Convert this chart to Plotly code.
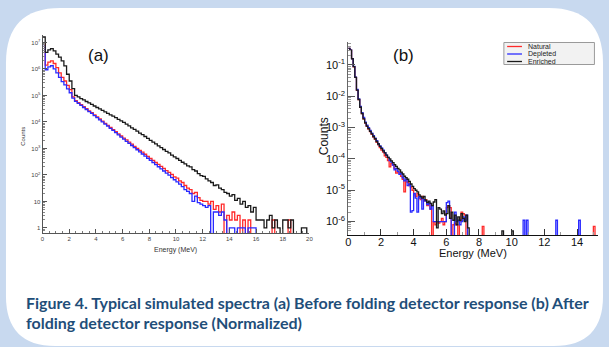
import numpy as np
import plotly.graph_objects as go

W, H = 609, 347

# ---------------- Panel (a): before folding detector response (counts, 0.2 MeV bins) -------------
A_BIN_WIDTH = 0.2
a_enriched = [1.6e7, 4.2e6, 5.2e6, 5.8e6, 4.8e6, 3.6e6, 2.8e6, 2.0e6, 1.3e6, 6.3e5,
              3.5e5, 1.8e5, 1.0e5, 8.9e4, 7.6e4, 6.8e4, 5.9e4, 5.2e4, 4.6e4, 4.0e4,
              3.5e4, 3.1e4, 2.75e4, 2.4e4, 2.1e4, 1.86e4, 1.66e4, 1.45e4, 1.26e4, 1.1e4,
              9550, 8300, 7100, 6000, 5250, 4470, 3800, 3310, 2820, 2400,
              2000, 1740, 1480, 1260, 1070, 912, 776, 676, 562, 479,
              417, 355, 302, 263, 219, 200, 158, 141, 112, 95,
              89, 71, 60, 52, 40, 42, 32, 28, 22, 20,
              16, 18, 11, 13, 8, 10, 6, 7, 4, 6,
              2, 2, 2, 1, 2, 3, 1, 2, 1, 0,
              2, 2, 1, 2, 0, 0, 0, 1, 1, 0]
a_natural = [8.9e6, 1.4e6, 1.8e6, 2.0e6, 1.6e6, 1.12e6, 7.1e5, 4.8e5, 3.5e5, 2.4e5,
             1.66e5, 8.9e4, 6.3e4, 5.4e4, 4.5e4, 3.8e4, 3.16e4, 2.63e4, 2.24e4, 1.86e4,
             1.55e4, 1.29e4, 1.07e4, 8900, 7400, 6170, 5130, 4270, 3550, 2950,
             2450, 2090, 1740, 1450, 1200, 1000, 851, 724, 603, 501,
             417, 355, 295, 251, 209, 178, 145, 126, 105, 85,
             76, 60, 52, 40, 32, 28, 20, 22, 14, 11,
             10, 10, 8, 10, 5, 7, 4, 8, 0, 3,
             2, 4, 2, 3, 0, 2, 0, 2, 0, 0,
             0, 0, 0, 0, 0, 0, 2, 0, 0, 0,
             0, 0, 2, 0, 0, 0, 0, 0, 0, 0]
a_depleted = [7.1e6, 9.3e5, 1.2e6, 1.32e6, 1.0e6, 7.1e5, 4.8e5, 3.3e5, 2.5e5, 1.78e5,
              1.26e5, 7.9e4, 6.0e4, 5.0e4, 4.2e4, 3.5e4, 2.95e4, 2.45e4, 2.1e4, 1.74e4,
              1.45e4, 1.2e4, 1.0e4, 8300, 6900, 5750, 4790, 3980, 3240, 2690,
              2240, 1860, 1550, 1290, 1070, 891, 741, 617, 513, 427,
              355, 295, 245, 204, 170, 141, 117, 98, 79, 66,
              55, 45, 36, 28, 24, 20, 10, 16, 9, 8,
              7, 6, 7, 0, 4, 4, 3, 4, 2, 0,
              1, 1, 0, 1, 1, 1, 0, 1, 1, 1,
              0, 0, 0, 0, 0, 0, 0, 0, 0, 0,
              0, 0, 0, 0, 0, 0, 0, 0, 0, 0]

# ---------------- Panel (b): after folding detector response (normalized, 0.1 MeV bins) ----------
B_BIN_WIDTH = 0.1
b_enriched = [0.34, 0.30, 0.158, 0.089, 0.040, 0.0158, 0.0079, 0.00447, 0.00282, 0.0019,
              0.00141, 0.00112, 9.3e-4, 7.6e-4, 6.3e-4, 5.2e-4, 4.4e-4, 3.6e-4, 3.0e-4, 2.5e-4,
              2.14e-4, 1.82e-4, 1.55e-4, 1.32e-4, 1.12e-4, 1.0e-4, 8.7e-5, 7.6e-5, 6.6e-5, 5.75e-5,
              5.0e-5, 4.5e-5, 3.8e-5, 3.3e-5, 2.8e-5, 2.5e-5, 2.24e-5, 1.9e-5, 1.58e-5, 1.32e-5,
              1.12e-5, 1.0e-5, 8.9e-6, 7.1e-6, 6.3e-6, 5.6e-6, 6.3e-6, 4.8e-6, 4.0e-6, 4.5e-6,
              3.8e-6, 3.2e-6, 4.2e-6, 5.0e-6, 6.3e-7, 2.8e-6, 2.5e-6, 1.8e-6, 2.2e-6, 1.6e-6,
              1.8e-6, 3.2e-6, 1.26e-6, 2.0e-6, 1.1e-6, 1.6e-6, 7.9e-7, 1.4e-6, 1.1e-6, 1.8e-6,
              1.26e-6, 1.0e-6, 1.6e-6, 6.3e-7, 0] \
    + [0] * 19 + [5e-7] + [0] * 5 + [5e-7] + [0] * 52
b_natural = [0.34, 0.30, 0.16, 0.088, 0.040, 0.0155, 0.0078, 0.0044, 0.0028, 0.0019,
             0.0014, 0.0011, 9.0e-4, 7.4e-4, 6.1e-4, 5.0e-4, 4.2e-4, 3.4e-4, 2.8e-4, 2.3e-4,
             1.9e-4, 1.66e-4, 1.26e-4, 1.12e-4, 8.9e-5, 5.6e-5, 7.1e-5, 6.3e-5, 5.0e-5, 3.5e-5,
             4.0e-5, 3.5e-5, 2.8e-5, 2.24e-5, 8.9e-6, 2.0e-5, 1.8e-5, 1.4e-5, 1.26e-5, 1.0e-5,
             7.1e-6, 6.3e-6, 7.9e-6, 5.6e-6, 5.0e-6, 6.3e-6, 4.5e-6, 5.0e-6, 3.2e-6, 3.5e-6,
             2.5e-6, 0, 1.0e-6, 7.9e-7, 1.0e-6, 8.9e-7, 1.0e-6, 1.26e-6, 7.9e-7, 1.0e-6,
             2.8e-6, 3.2e-6, 2.8e-6, 0, 7.9e-7, 8.9e-7, 7.9e-7, 0, 1.0e-6, 2.0e-6,
             1.8e-6, 1.6e-6, 0, 0, 0] \
    + [0] * 7 + [7e-7] + [0] * 67 + [7e-7] + [0] * 2
b_depleted = [0.34, 0.30, 0.16, 0.090, 0.041, 0.0165, 0.0083, 0.0048, 0.0030, 0.0021,
              0.0015, 0.0012, 1.0e-3, 8.2e-4, 6.7e-4, 5.5e-4, 4.6e-4, 3.8e-4, 3.1e-4, 2.6e-4,
              2.24e-4, 1.9e-4, 1.58e-4, 1.32e-4, 1.12e-4, 8.9e-5, 7.9e-5, 6.3e-5, 4.5e-5, 5.0e-5,
              4.0e-5, 3.2e-5, 3.5e-5, 2.5e-5, 2.0e-5, 2.24e-5, 1.4e-5, 1.58e-5, 2.0e-6, 2.24e-6,
              7.9e-6, 5.6e-6, 2.0e-6, 6.3e-6, 5.6e-6, 2.5e-6, 5.0e-6, 4.5e-6, 3.5e-6, 4.0e-6,
              2.5e-6, 3.2e-6, 1.0e-6, 1.0e-6, 1.0e-6, 1.0e-6, 1.0e-6, 1.0e-6, 1.0e-6, 1.0e-6,
              4.0e-6, 4.5e-6, 1.26e-6, 0, 0, 2.0e-6, 1.0e-6, 1.1e-6, 7.9e-7, 1.0e-6,
              1.4e-6, 1.1e-6, 1.6e-6, 0, 0] \
    + [0] * 32 + [1.1e-6] + [0] + [1.1e-6] + [0] * 17 + [1.1e-6] + [0] * 13 + [1.1e-6] + [0] * 11

series_names = ["Natural", "Depleted", "Enriched"]
series_colors = ["#ff2a2a", "#2a2aff", "#1a1a1a"]

a_ticks = [1, 10, 1e2, 1e3, 1e4, 1e5, 1e6, 1e7]
a_ticktext = ["1", "10", "10<sup>2</sup>", "10<sup>3</sup>", "10<sup>4</sup>",
              "10<sup>5</sup>", "10<sup>6</sup>", "10<sup>7</sup>"]
b_ticks = [1e-6, 1e-5, 1e-4, 1e-3, 1e-2, 1e-1]
b_ticktext = ["10<sup>-6</sup>", "10<sup>-5</sup>", "10<sup>-4</sup>",
              "10<sup>-3</sup>", "10<sup>-2</sup>", "10<sup>-1</sup>"]


def step_xy(vals, width, floor):
    n = len(vals)
    xs = list(np.round(np.arange(n + 1) * width, 4))
    ys = [v if v > 0 else floor for v in vals]
    ys = ys + [ys[-1]]
    return xs, ys


def PX(x):
    return x / W


def PY(y):
    return 1 - y / H


fig = go.Figure()

for vals, name, col in zip([a_natural, a_depleted, a_enriched], series_names, series_colors):
    xs, ys = step_xy(vals, A_BIN_WIDTH, 1e-3)
    fig.add_trace(go.Scatter(x=xs, y=ys, mode="lines", line=dict(shape="hv", color=col, width=1.3),
                             name=name, showlegend=False, xaxis="x", yaxis="y"))

for vals, name, col in zip([b_natural, b_depleted, b_enriched], series_names, series_colors):
    xs, ys = step_xy(vals, B_BIN_WIDTH, 1e-10)
    fig.add_trace(go.Scatter(x=xs, y=ys, mode="lines", line=dict(shape="hv", color=col, width=1.3),
                             name=name, showlegend=False, xaxis="x2", yaxis="y2"))

# white rounded panel on light-blue page
R1, R2 = 55, 50
L, T, Rt, B = 3, 8, 607, 346
pts = [("M", L + R1, T), ("L", Rt - R1, T), ("Q", Rt, T, Rt, T + R1), ("L", Rt, B - R2),
       ("Q", Rt, B, Rt - R2, B), ("L", L + R2, B), ("Q", L, B, L, B - R2), ("L", L, T + R1),
       ("Q", L, T, L + R1, T)]
path = ""
for p in pts:
    if p[0] == "Q":
        path += f"Q{PX(p[1]):.5f},{PY(p[2]):.5f} {PX(p[3]):.5f},{PY(p[4]):.5f} "
    else:
        path += f"{p[0]}{PX(p[1]):.5f},{PY(p[2]):.5f} "
path += "Z"

shapes = [dict(type="path", path=path, xref="paper", yref="paper", fillcolor="white",
               line=dict(width=0), layer="below")]

# legend box for panel (b)
shapes.append(dict(type="rect", xref="paper", yref="paper", x0=PX(506.7), x1=PX(598.3),
                   y0=PY(64.5), y1=PY(42.5), fillcolor="#f2f2f2", line=dict(color="#9a9a9a", width=1)))
annotations = []
for i, (name, col) in enumerate(zip(series_names, series_colors)):
    yy = 46.5 + i * 7.5
    shapes.append(dict(type="line", xref="paper", yref="paper", x0=PX(510), x1=PX(525),
                       y0=PY(yy), y1=PY(yy), line=dict(color=col, width=1.3)))
    annotations.append(dict(text=name, x=PX(529), y=PY(yy), xref="paper", yref="paper",
                            xanchor="left", yanchor="middle", showarrow=False,
                            font=dict(size=7, color="#222", family="Liberation Sans")))


def label(text, x, y, size, color="#111", angle=0, family="Liberation Sans", anchor="center"):
    return dict(text=text, x=PX(x), y=PY(y), xref="paper", yref="paper", showarrow=False,
                xanchor=anchor, yanchor="middle", textangle=angle,
                font=dict(size=size, color=color, family=family))


annotations += [
    label("(a)", 97, 55, 17),
    label("(b)", 405, 55, 17),
    label("Energy (MeV)", 175, 250, 7, color="#333"),
    label("Counts", 20, 136, 6, color="#333", angle=-90),
    label("Energy (MeV)", 475, 252.5, 11),
    label("Counts", 325, 136, 12, angle=-90),
    label("<b>Figure 4. Typical simulated spectra (a) Before folding detector response (b) After</b>",
          21, 302, 16, color="#1f4e79", family="Lato", anchor="left"),
    label("<b>folding detector response (Normalized)</b>",
          21, 322, 16, color="#1f4e79", family="Lato", anchor="left"),
]

fig.update_layout(
    width=W, height=H, margin=dict(l=0, r=0, t=0, b=0),
    paper_bgcolor="#c8d9ef", plot_bgcolor="rgba(0,0,0,0)",
    shapes=shapes, annotations=annotations, showlegend=False,
    xaxis=dict(domain=[PX(40), PX(310)], range=[0, 20], anchor="y", dtick=2,
               showline=True, linecolor="#555", linewidth=1, ticks="inside", ticklen=4,
               tickcolor="#555", tickfont=dict(size=6, color="#444", family="Liberation Sans"),
               minor=dict(ticks="inside", ticklen=2, dtick=0.5, tickcolor="#777"),
               showgrid=False, zeroline=False),
    yaxis=dict(type="log", domain=[PY(233), PY(35)], range=[-0.19, 7.28], anchor="x",
               tickvals=a_ticks, ticktext=a_ticktext, showline=True, linecolor="#555",
               linewidth=1, ticks="inside", ticklen=4, tickcolor="#555",
               tickfont=dict(size=6, color="#444", family="Liberation Sans"),
               minor=dict(ticks="inside", ticklen=2, dtick="D1", tickcolor="#888"),
               showgrid=False, zeroline=False),
    xaxis2=dict(domain=[PX(349.3), PX(601.7)], range=[0, 15.27], anchor="y2", dtick=2,
                showline=True, linecolor="#111", linewidth=1.2, ticks="inside", ticklen=6,
                tickcolor="#333", tickfont=dict(size=11, color="#111", family="Liberation Sans"),
                minor=dict(ticks="inside", ticklen=3, dtick=1, tickcolor="#999"),
                ticklabelstandoff=-3,
                showgrid=False, zeroline=False),
    yaxis2=dict(type="log", domain=[PY(235), PY(41.7)], range=[-6.43, -0.256], anchor="x2",
                tickvals=b_ticks, ticktext=b_ticktext, showline=True, linecolor="#666",
                linewidth=1.2, ticks="inside", ticklen=7, tickcolor="#555",
                tickfont=dict(size=11, color="#111", family="Liberation Sans"),
                minor=dict(ticks="inside", ticklen=3, dtick="D1", tickcolor="#999"),
                showgrid=False, zeroline=False),
)

fig.write_html("out.html", config={"displayModeBar": False},
               post_script="document.body.style.margin='0';document.body.style.overflow='hidden';")
